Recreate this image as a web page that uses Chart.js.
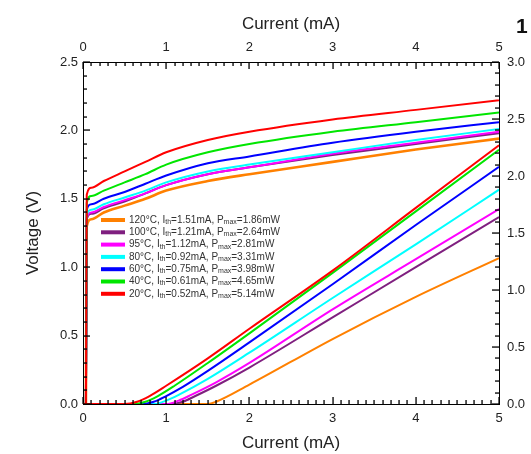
<!DOCTYPE html>
<html>
<head>
<meta charset="utf-8">
<script src="https://cdn.jsdelivr.net/npm/chart.js@4"></script>
<style>
  html, body { margin: 0; padding: 0; background: #fff; }
  #wrap { width: 531px; height: 454px; }
</style>
</head>
<body>
<div id="wrap"><canvas id="ivChart"></canvas></div>
<script>
Chart.defaults.font.family = '"Liberation Sans", Arial, sans-serif';
Chart.defaults.color = '#222';

// legend info
const temps = ['120°C', '100°C', '95°C', '80°C', '60°C', '40°C', '20°C'];
const ithValues = ['1.51', '1.21', '1.12', '0.92', '0.75', '0.61', '0.52'];
const pmaxValues = ['1.86', '2.64', '2.81', '3.31', '3.98', '4.65', '5.14'];
const colors = ['#ff8000', '#7f1f7f', '#ff00ff', '#00ffff', '#0000ff', '#00e600', '#ff0000'];

// V-I curves (left axis)
const ivCurrent = [0, 0.035, 0.045, 0.1, 0.25, 0.5, 0.75, 1, 1.5, 2, 3, 4, 5];
const voltage120 = [0, 0, 1.30, 1.35, 1.40, 1.45, 1.50, 1.56, 1.63, 1.68, 1.77, 1.86, 1.94];
const voltage100 = [0, 0, 1.35, 1.39, 1.43, 1.48, 1.54, 1.60, 1.68, 1.73, 1.82, 1.90, 1.98];
const voltage95 = [0, 0, 1.36, 1.40, 1.44, 1.49, 1.54, 1.60, 1.68, 1.73, 1.83, 1.91, 1.99];
const voltage80 = [0, 0, 1.38, 1.42, 1.46, 1.51, 1.56, 1.62, 1.70, 1.75, 1.84, 1.93, 2.01];
const voltage60 = [0, 0, 1.42, 1.46, 1.50, 1.55, 1.61, 1.67, 1.76, 1.81, 1.91, 1.99, 2.06];
const voltage40 = [0, 0, 1.47, 1.52, 1.56, 1.62, 1.68, 1.75, 1.84, 1.90, 1.99, 2.06, 2.13];
const voltage20 = [0, 0, 1.53, 1.58, 1.63, 1.70, 1.77, 1.84, 1.93, 1.99, 2.08, 2.15, 2.22];

// L-I curves (right axis)
const current120 = [0, 1.5, 1.6, 2, 3, 4, 5];
const power120 = [0, 0, 0.02, 0.17, 0.57, 0.94, 1.28];
const current100 = [0, 1.05, 1.2, 1.35, 1.6, 2, 3, 4, 5];
const power100 = [0, 0, 0.02, 0.07, 0.16, 0.32, 0.76, 1.20, 1.64];
const current95 = [0, 1.0, 1.15, 1.3, 1.6, 2, 3, 4, 5];
const power95 = [0, 0, 0.03, 0.08, 0.19, 0.36, 0.83, 1.27, 1.71];
const current80 = [0, 0.85, 1.0, 1.15, 1.5, 2, 3, 4, 5];
const power80 = [0, 0, 0.03, 0.08, 0.22, 0.45, 0.93, 1.40, 1.88];
const current60 = [0, 0.7, 0.85, 1.0, 1.2, 1.5, 2, 3, 4, 5];
const power60 = [0, 0, 0.02, 0.07, 0.15, 0.29, 0.54, 1.05, 1.57, 2.08];
const current40 = [0, 0.6, 0.75, 0.9, 1.1, 1.5, 2, 3, 4, 5];
const power40 = [0, 0, 0.02, 0.07, 0.16, 0.36, 0.62, 1.15, 1.69, 2.23];
const current20 = [0, 0.5, 0.65, 0.8, 1.0, 1.5, 2, 3, 4, 5];
const power20 = [0, 0, 0.02, 0.07, 0.16, 0.40, 0.66, 1.17, 1.72, 2.27];

const voltageSeries = [voltage120, voltage100, voltage95, voltage80, voltage60, voltage40, voltage20];
const currentSeries = [current120, current100, current95, current80, current60, current40, current20];
const powerSeries = [power120, power100, power95, power80, power60, power40, power20];

function toPoints(xs, ys){
  return xs.map(function(x, k){ return {x: x, y: ys[k]}; });
}

const datasets = [];
// first dataset is drawn on top, so go from 20°C down to 120°C
for(let i = temps.length - 1; i >= 0; i--){
  datasets.push({
    label: temps[i] + ' V',
    data: toPoints(ivCurrent, voltageSeries[i]),
    yAxisID: 'y',
    borderColor: colors[i],
    borderWidth: i === 0 ? 2.6 : 2,
    pointRadius: 0,
    fill: false,
    cubicInterpolationMode: 'monotone'
  });
}
for(let i = temps.length - 1; i >= 0; i--){
  datasets.push({
    label: temps[i] + ' P',
    data: toPoints(currentSeries[i], powerSeries[i]),
    yAxisID: 'y2',
    borderColor: colors[i],
    borderWidth: 2,
    pointRadius: 0,
    fill: false,
    cubicInterpolationMode: 'monotone'
  });
}

const tickFont = { size: 13 };
const titleFont = { size: 17, lineHeight: 1.2 };
const frame = { display: true, color: '#000', width: 1 };
const noGrid = { display: false, drawTicks: false };

// inward ticks, legend box and the stray "1" at top right
const extras = {
  id: 'extras',
  afterDraw(chart){
    const ctx = chart.ctx;
    const a = chart.chartArea;
    const sx = chart.scales.x;
    const sy = chart.scales.y;
    const sy2 = chart.scales.y2;
    ctx.save();
    ctx.fillStyle = '#000';
    for(let k = 0; k <= 50; k++){
      const px = Math.round(sx.getPixelForValue(k / 10));
      const len = k % 10 === 0 ? 7 : 4;
      ctx.fillRect(px - 0.6, a.bottom - len, 1.3, len);
      ctx.fillRect(px - 0.6, a.top, 1.3, len);
    }
    for(let k = 0; k <= 25; k++){
      const py = Math.round(sy.getPixelForValue(k / 10));
      const len = k % 5 === 0 ? 7 : 4;
      ctx.fillRect(a.left, py - 0.6, len, 1.3);
    }
    for(let k = 0; k <= 30; k++){
      const py = Math.round(sy2.getPixelForValue(k / 10));
      const len = k % 5 === 0 ? 7 : 4;
      ctx.fillRect(a.right - len, py - 0.6, len, 1.3);
    }

    // legend
    const x0 = 101, rowY = 220, rowH = 12.3;
    ctx.textBaseline = 'middle';
    ctx.textAlign = 'left';
    for(let i = 0; i < temps.length; i++){
      const y = rowY + i * rowH;
      ctx.strokeStyle = colors[i];
      ctx.lineWidth = 4;
      ctx.beginPath();
      ctx.moveTo(x0, y); ctx.lineTo(x0 + 24, y);
      ctx.stroke();
      const parts = [
        [temps[i] + ', I', false],
        ['th', true],
        ['=' + ithValues[i] + 'mA, P', false],
        ['max', true],
        ['=' + pmaxValues[i] + 'mW', false]
      ];
      let tx = x0 + 28;
      ctx.fillStyle = '#333';
      parts.forEach(function(p){
        ctx.font = (p[1] ? '7px' : '10px') + ' "Liberation Sans", Arial, sans-serif';
        ctx.fillText(p[0], tx, p[1] ? y + 2 : y);
        tx += ctx.measureText(p[0]).width;
      });
    }

    ctx.fillStyle = '#111';
    ctx.font = 'bold 21px "Liberation Sans", Arial, sans-serif';
    ctx.textBaseline = 'alphabetic';
    ctx.fillText('1', 516, 33);
    ctx.restore();
  }
};

const config = {
  type: 'line',
  data: { datasets: datasets },
  options: {
    responsive: true,
    maintainAspectRatio: false,
    animation: false,
    layout: { padding: 0 },
    plugins: {
      legend: { display: false },
      tooltip: { enabled: false }
    },
    scales: {
      x: {
        type: 'linear', position: 'bottom', min: 0, max: 5,
        ticks: { stepSize: 1, font: tickFont, padding: 7, maxRotation: 0 },
        grid: noGrid,
        border: frame,
        title: { display: true, text: 'Current (mA)', font: titleFont, padding: { top: 0, bottom: 0 } },
        afterFit: function(s){ s.height = 50; }
      },
      x2: {
        type: 'linear', position: 'top', min: 0, max: 5,
        ticks: { stepSize: 1, font: tickFont, padding: 7, maxRotation: 0 },
        grid: noGrid,
        border: frame,
        title: { display: true, text: 'Current (mA)', font: titleFont, padding: { top: 14, bottom: 0 } },
        afterFit: function(s){ s.height = 62; }
      },
      y: {
        type: 'linear', position: 'left', min: 0, max: 2.5,
        ticks: { stepSize: 0.5, font: tickFont, padding: 5, callback: function(v){ return v.toFixed(1); } },
        grid: noGrid,
        border: frame,
        title: { display: true, text: 'Voltage (V)', font: titleFont, padding: { top: 23, bottom: 0 } },
        afterFit: function(s){ s.width = 83; }
      },
      y2: {
        type: 'linear', position: 'right', min: 0, max: 3,
        ticks: { stepSize: 0.5, font: tickFont, padding: 8, callback: function(v){ return v.toFixed(1); } },
        grid: noGrid,
        border: frame,
        afterFit: function(s){ s.width = 32; }
      }
    }
  },
  plugins: [extras]
};

const ivCanvas = document.getElementById('ivChart').getContext('2d');
const ivChart = new Chart(ivCanvas, config);
</script>
</body>
</html>
